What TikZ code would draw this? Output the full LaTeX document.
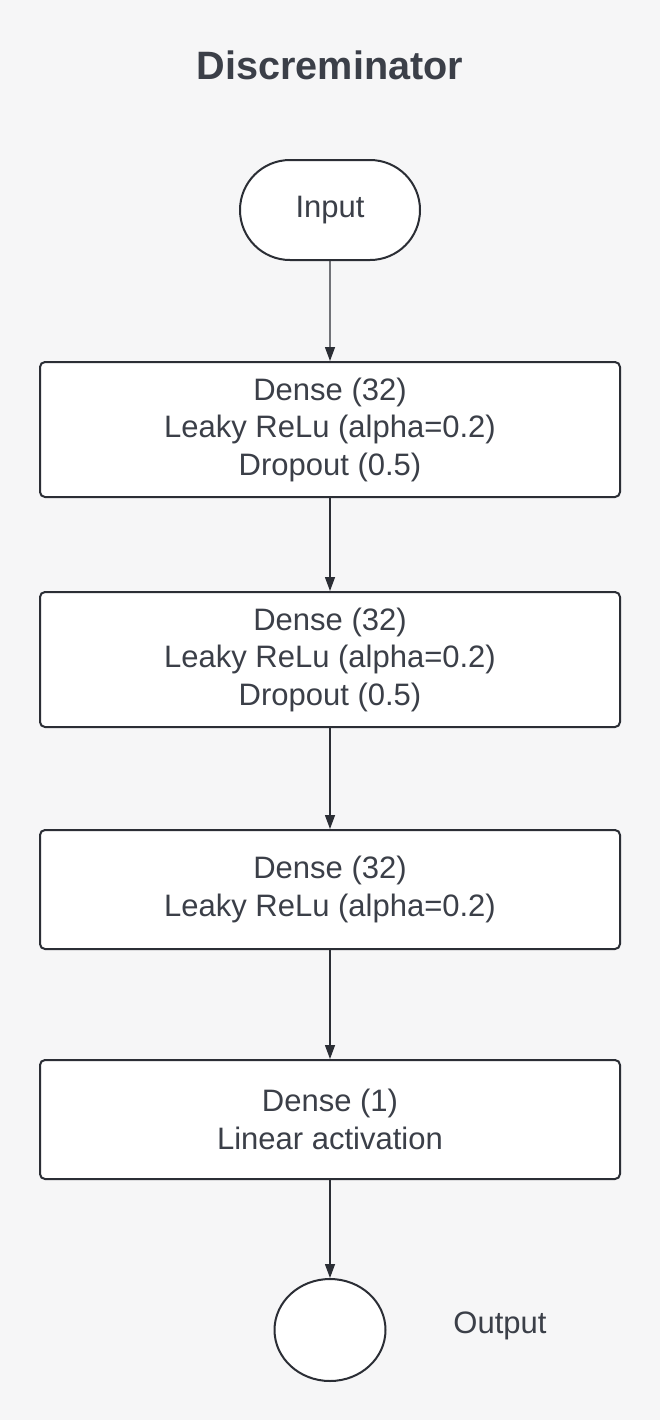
\documentclass[tikz,border=0pt]{standalone}
\usepackage{fontspec}
\setmainfont{Liberation Sans}
\usepackage{tikz}
\usetikzlibrary{arrows.meta}
\usetikzlibrary{shapes.misc,shapes.geometric}
\definecolor{bgcol}{HTML}{F6F6F7}
\definecolor{inkcol}{HTML}{2B2E35}
\definecolor{txtcol}{HTML}{3B3F48}
\tikzstyle{layer}=[draw=inkcol,fill=white,line width=1pt,rounded corners=2.5pt,
  minimum width=290pt,inner sep=0pt,align=center,text=txtcol,
  font=\fontsize{15.5}{18.75}\selectfont]
\tikzstyle{terminal}=[draw=inkcol,fill=white,line width=1pt,rounded rectangle,
  minimum width=90pt,minimum height=50pt,inner sep=0pt,text=txtcol,
  font=\fontsize{15.5}{18.75}\selectfont]
\tikzstyle{flow}=[draw=inkcol,line width=0.65pt,-{Triangle[width=5pt,length=7pt]}]

\begin{document}
\begin{tikzpicture}[x=0.5pt,y=-0.5pt]

      \fill[bgcol] (0,0) rectangle (660,1420);
      \useasboundingbox (0,0) rectangle (660,1420);

      \node[text=txtcol,font=\fontsize{19.8}{24}\selectfont\bfseries] (title) at (330,65) {Discreminator};

      \node[terminal] (in) at (330,210) {Input};

      \node[layer,minimum height=67.5pt] (l1) at (330,429.5) {Dense (32)\\Leaky ReLu (alpha=0.2)\\Dropout (0.5)};
      \node[layer,minimum height=67.5pt] (l2) at (330,659.5) {Dense (32)\\Leaky ReLu (alpha=0.2)\\Dropout (0.5)};
      \node[layer,minimum height=59.5pt] (l3) at (330,889.5) {Dense (32)\\Leaky ReLu (alpha=0.2)};
      \node[layer,minimum height=59.5pt] (l4) at (330,1119.5) {Dense (1)\\Linear activation};

      \node[draw=inkcol,fill=white,line width=1pt,ellipse,minimum width=55.5pt,minimum height=51pt] (out) at (330,1330) {};
      \node[text=txtcol,font=\fontsize{15.5}{18.75}\selectfont] (outlbl) at (500,1326) {Output};

      \draw[flow] (in) to (l1);
      \foreach \i/\j in {1/2,2/3,3/4}{
        \draw[flow] (l\i) to (l\j);
      }
      \draw[flow] (l4) to (out);

\end{tikzpicture}
\end{document}
